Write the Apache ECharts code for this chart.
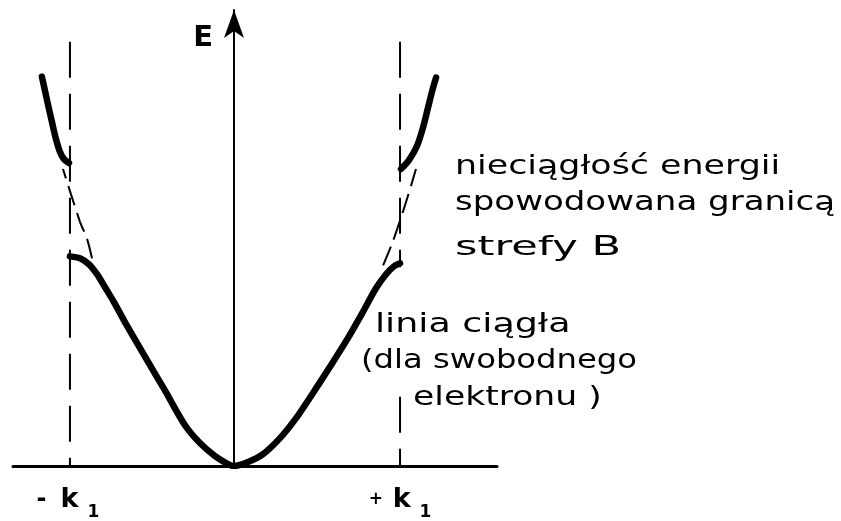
<!DOCTYPE html>
<html>
<head>
<meta charset="utf-8">
<script src="https://cdn.jsdelivr.net/npm/echarts@6/dist/echarts.min.js"></script>
<style>
  html, body { margin: 0; padding: 0; background: #fff; }
  #chart { width: 841px; height: 521px; }
</style>
</head>
<body>
<div id="chart"></div>
<script>
// Wave vector k in units of k1, energy E in arbitrary units (same scale).
// Lower band: from the zone boundary -k1 through k = 0 to +k1.
var lowerBand = [
  [-0.988, 1.271], [-0.928, 1.259], [-0.873, 1.223], [-0.825, 1.163],
  [-0.777, 1.084], [-0.723, 0.994], [-0.657, 0.873], [-0.536, 0.663],
  [-0.416, 0.458], [-0.295, 0.247], [-0.205, 0.139], [-0.114, 0.060],
  [-0.036, 0.012], [0, 0],
  [0.084, 0.024], [0.175, 0.072], [0.277, 0.169], [0.373, 0.289],
  [0.470, 0.434], [0.578, 0.602], [0.687, 0.777], [0.783, 0.946],
  [0.855, 1.078], [0.916, 1.163], [0.964, 1.211], [1.0, 1.229]
];
// Upper band beyond -k1
var upperBandLeft = [
  [-1.157, 2.361], [-1.127, 2.223], [-1.096, 2.084], [-1.072, 1.982],
  [-1.048, 1.904], [-1.024, 1.861], [-0.994, 1.837]
];
// Upper band beyond +k1
var upperBandRight = [
  [1.006, 1.801], [1.054, 1.855], [1.102, 1.940], [1.139, 2.054],
  [1.169, 2.175], [1.196, 2.283], [1.217, 2.355]
];
// Free-electron parabola bridging the gap (dashed)
var freeLeft = [[-0.855, 1.259], [-0.886, 1.380], [-0.928, 1.482], [-1.030, 1.801]];
var freeRight = [[0.898, 1.217], [0.952, 1.349], [1.0, 1.488], [1.048, 1.639], [1.096, 1.801]];
// Zone boundaries at -k1 and +k1
var boundaryLeft = [[-0.988, 2.572], [-0.988, 0]];
var boundaryRight = [[1.0, 2.572], [1.0, 1.205], null, [1.0, 0.42], [1.0, 0]];

// Axis ticks: sign style key and sign character for each boundary
var kTickValues = [-1, 1];
var kTickSigns = ['-', '+'];
var kTickSignStyles = ['m', 'p'];

var chart = echarts.init(document.getElementById('chart'));

var solid = { color: '#000', width: 6.5, cap: 'round', join: 'round' };
var dashedThin = { color: '#000', width: 2, type: [20, 8] };
var boundaryStyle = { color: '#000', width: 2, type: [36, 16] };
var labelFont = { fontFamily: 'DejaVu Sans', fontWeight: 'bold', color: '#000' };

var option = {
  animation: false,
  backgroundColor: '#fff',
  grid: { left: 13, right: 344, top: 10, bottom: 52 },
  xAxis: {
    type: 'value',
    min: -1.331,
    max: 1.584,
    axisLine: { onZero: true, lineStyle: { color: '#000', width: 3 } },
    axisTick: { show: false },
    splitLine: { show: false },
    axisLabel: {
      customValues: kTickValues,
      margin: 12,
      formatter: function (v) {
        var i = kTickValues.indexOf(v);
        return '{' + kTickSignStyles[i] + '|' + kTickSigns[i] + '}{k|k}{s|1}';
      },
      rich: {
        m: Object.assign({ fontSize: 24, width: 24, align: 'left' }, labelFont),
        p: Object.assign({ fontSize: 17, width: 24, align: 'left' }, labelFont),
        k: Object.assign({ fontSize: 27, padding: [0, 9, 0, 0] }, labelFont),
        s: Object.assign({ fontSize: 17, padding: [26, 0, 0, 0] }, labelFont)
      }
    }
  },
  yAxis: {
    type: 'value',
    min: 0,
    max: 2.765,
    name: 'E',
    nameLocation: 'end',
    nameGap: -43,
    nameTextStyle: {
      fontFamily: 'DejaVu Sans', fontSize: 29, fontWeight: 'bold', color: '#000',
      align: 'right', padding: [0, 21, 0, 0]
    },
    axisLine: {
      onZero: true,
      symbol: ['none', 'arrow'],
      symbolSize: [15, 28],
      lineStyle: { color: '#000', width: 2 }
    },
    axisTick: { show: false },
    axisLabel: { show: false },
    splitLine: { show: false }
  },
  series: [
    { type: 'line', data: lowerBand, smooth: 0.3, showSymbol: false, lineStyle: solid, z: 5 },
    { type: 'line', data: upperBandLeft, smooth: 0.3, showSymbol: false, lineStyle: solid, z: 5 },
    { type: 'line', data: upperBandRight, smooth: 0.3, showSymbol: false, lineStyle: solid, z: 5 },
    { type: 'line', data: freeLeft, smooth: 0.3, showSymbol: false, lineStyle: dashedThin },
    { type: 'line', data: freeRight, smooth: 0.3, showSymbol: false, lineStyle: dashedThin },
    { type: 'line', data: boundaryLeft, showSymbol: false, lineStyle: boundaryStyle },
    { type: 'line', data: boundaryRight, showSymbol: false, connectNulls: false, lineStyle: boundaryStyle }
  ],
  graphic: [
    { type: 'text', x: 455, y: 153, scaleX: 1.29,
      style: { text: 'nieciągłość energii', font: '27px "DejaVu Sans"', fill: '#000' } },
    { type: 'text', x: 455, y: 189, scaleX: 1.26,
      style: { text: 'spowodowana granicą', font: '27px "DejaVu Sans"', fill: '#000' } },
    { type: 'text', x: 455, y: 234, scaleX: 1.6,
      style: { text: 'strefy B', font: '27px "DejaVu Sans"', fill: '#000' } },
    { type: 'text', x: 375, y: 312, scaleX: 1.4,
      style: { text: 'linia ciągła', font: '26px "DejaVu Sans"', fill: '#000' } },
    { type: 'text', x: 361, y: 348, scaleX: 1.24,
      style: { text: '(dla swobodnego', font: '26px "DejaVu Sans"', fill: '#000' } },
    { type: 'text', x: 413, y: 385, scaleX: 1.33,
      style: { text: 'elektronu )', font: '26px "DejaVu Sans"', fill: '#000' } }
  ]
};

chart.setOption(option);
</script>
</body>
</html>
